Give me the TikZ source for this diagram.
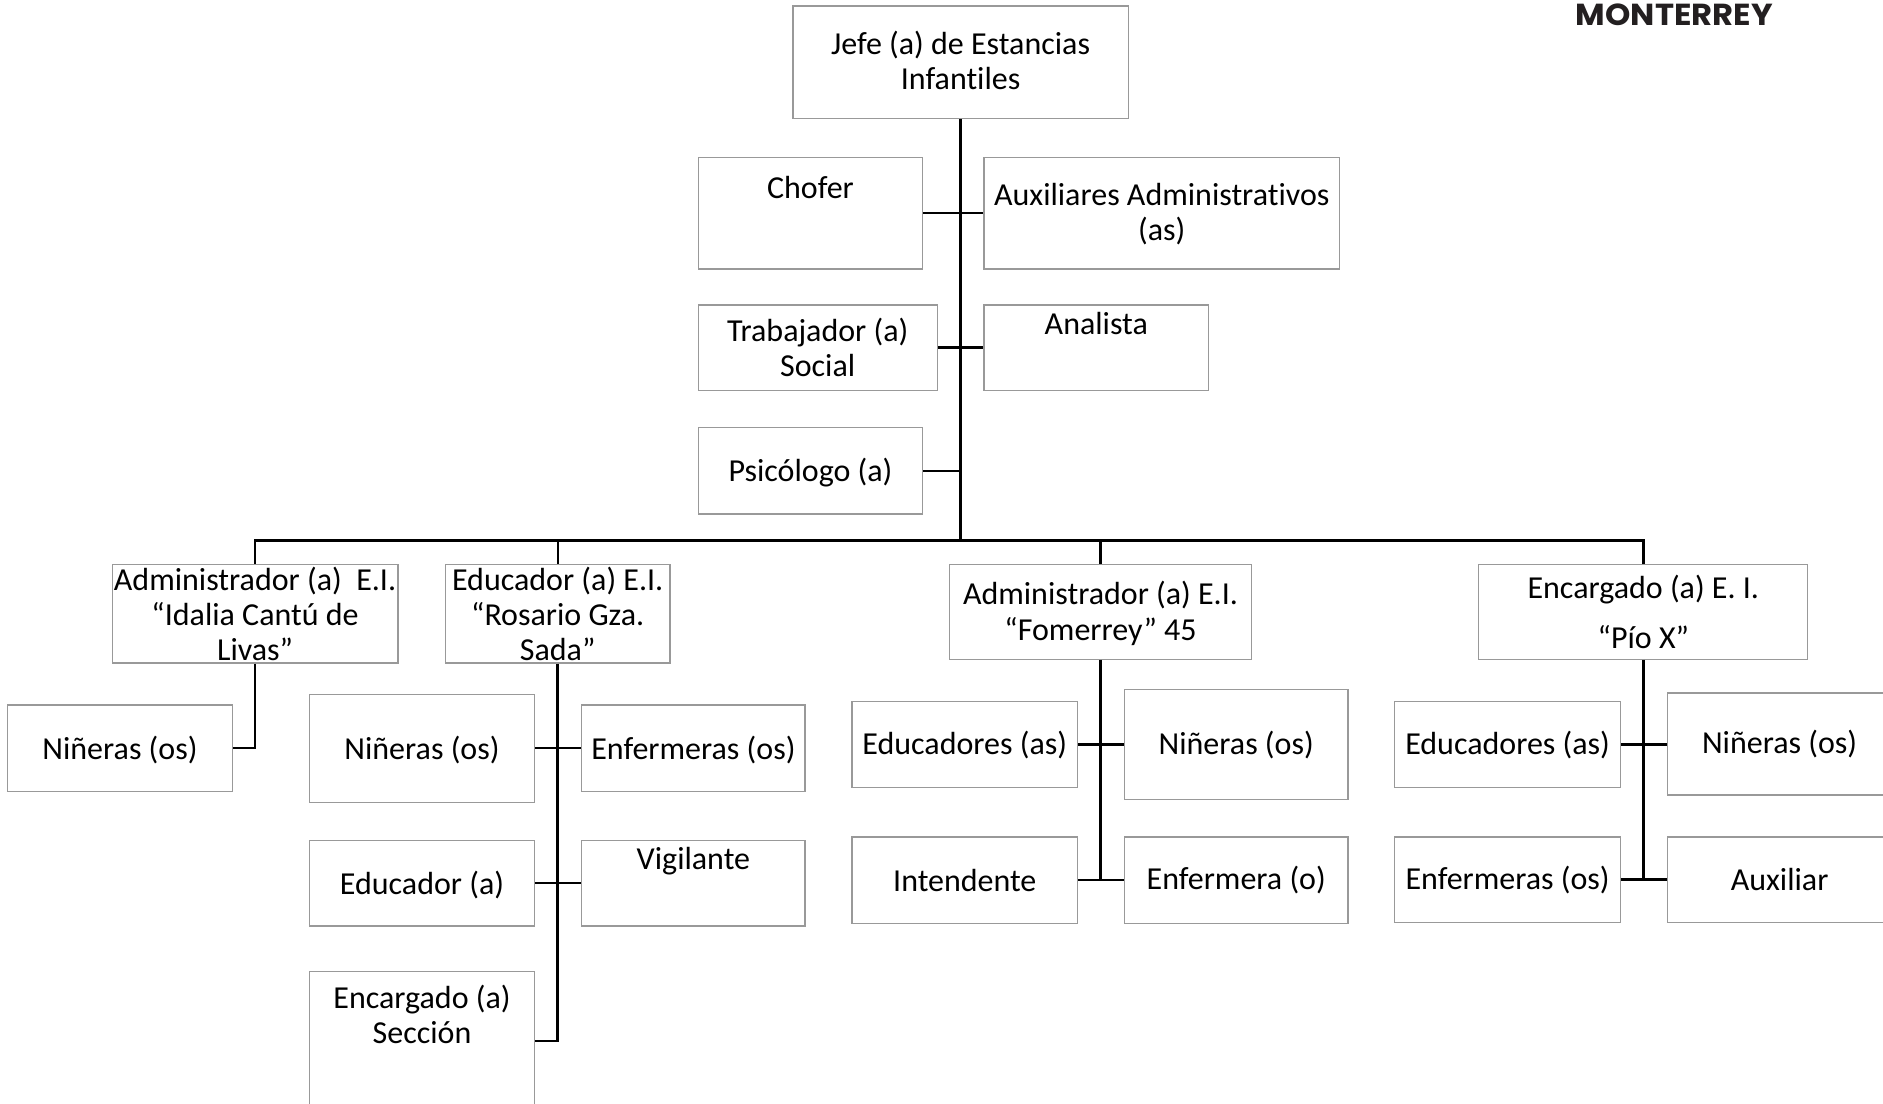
\documentclass[tikz,border=0pt]{standalone}
\usepackage{fontspec}
\setmainfont{Carlito}[Ligatures={TeX,NoCommon}]
\newfontfamily\logofont{Poppins}
\tikzset{
  x=0.6004pt,y=-0.6004pt,
  orgbox/.style={draw=boxgray,line width=0.6pt,fill=white,inner sep=0pt,align=center,text=black,
    font=\fontsize{16}{17.6}\selectfont},
  link/.style={draw=black,line width=1.3pt},
  thin link/.style={draw=black,line width=1.2pt}
}
\definecolor{boxgray}{gray}{0.6}
\definecolor{logoink}{HTML}{231F20}
% name, x0, y0, x1, y1, text
\newcommand{\orgnode}[6]{%
  \pgfmathsetmacro{\bw}{(#4-#2)*0.6004}\pgfmathsetmacro{\bh}{(#5-#3)*0.6004}%
  \node[orgbox,minimum width=\bw pt,minimum height=\bh pt] (#1) at ({(#2+#4)/2+0.4},{(#3+#5)/2}) {#6};}
% places the text block's centre #1 above the centre of its box
\newcommand{\upby}[2]{\raisebox{\dimexpr#1-6.4pt\relax}[0pt][0pt]{\begin{tabular}{@{}c@{}}#2\end{tabular}}}
\begin{document}
\begin{tikzpicture}
\useasboundingbox (0,0) rectangle (1568,919);
\clip (0,0) rectangle (1568,919);
\fill[white] (0,0) rectangle (1568,919);

\coordinate (busC) at (800,450);

\orgnode{jefe}{660}{5}{939}{99}{\upby{0.9pt}{Jefe (a) de Estancias\\Infantiles}}
\orgnode{chofer}{581}{131}{768}{224}{\upby{12.9pt}{Chofer}}
\orgnode{aux}{819}{131}{1115}{224}{\upby{0.6pt}{Auxiliares Administrativos\\(as)}}
\orgnode{trab}{581}{254}{780}{325}{Trabajador (a)\\Social}
\orgnode{anal}{819}{254}{1006}{325}{\upby{12.3pt}{Analista}}
\orgnode{psi}{581}{356}{768}{428}{\upby{0pt}{Psicólogo (a)}}

\orgnode{admA}{93}{470}{331}{552}{Administrador (a)\ \ E.I.\\“Idalia Cantú de\\Livas”}
\orgnode{eduB}{370.5}{470}{557.5}{552}{Educador (a) E.I.\\“Rosario Gza.\\Sada”}
\orgnode{admC}{790}{470}{1042}{549}{\upby{0.3pt}{Administrador (a) E.I.\\“Fomerrey” 45}}
\orgnode{encD}{1231}{470}{1505}{549}{Encargado (a) E. I.\\[7.4pt]“Pío X”}

\orgnode{ninA}{6}{587}{193}{659}{\upby{0pt}{Niñeras (os)}}
\orgnode{ninB}{257}{578}{445}{668}{\upby{0pt}{Niñeras (os)}}
\orgnode{enfB}{484}{587}{670}{659}{\upby{0pt}{Enfermeras (os)}}
\orgnode{eduS}{257}{700}{445}{771}{\upby{0pt}{Educador (a)}}
\orgnode{vig}{484}{700}{670}{771}{\upby{12.3pt}{Vigilante}}
\orgnode{encS}{257}{809}{445}{925}{\upby{13.2pt}{Encargado (a)\\Sección}}

\orgnode{eduC}{709}{584}{897}{656}{Educadores (as)}
\orgnode{ninC}{936}{574}{1122}{666}{Niñeras (os)}
\orgnode{intC}{709}{697}{897}{769}{Intendente}
\orgnode{enfC}{936}{697}{1122}{769}{Enfermera (o)}

\orgnode{eduD}{1161}{584}{1349}{656}{Educadores (as)}
\orgnode{ninD}{1388}{577}{1575}{662}{Niñeras (os)}
\orgnode{enfD}{1161}{697}{1349}{768}{Enfermeras (os)}
\orgnode{auxD}{1388}{697}{1575}{768}{Auxiliar}

% trunk and bus
\draw[link] (jefe.south -| busC) -- (busC);
\draw[link] (admA.north) |- (busC) -| (encD.north);
\draw[thin link] (eduB.north) -- (eduB.north |- busC);
\draw[thin link] (admC.north) -- (admC.north |- busC);
% staff
\draw[thin link] (chofer.east) -- (aux.west);
\draw[thin link] (trab.east) -- (anal.west);
\draw[thin link] (psi.east) -- (psi.east -| busC);
% branch A
\draw[link] (admA.south) |- (ninA.east);
% branch B
\draw[link] (eduB.south) |- (encS.east);
\draw[thin link] (ninB.east) -- (enfB.west);
\draw[thin link] (eduS.east) -- (vig.west);
% branch C
\draw[link] (admC.south) -- (admC.south |- intC.east);
\draw[thin link] (eduC.east) -- (ninC.west |- eduC.east);
\draw[thin link] (intC.east) -- (enfC.west);
% branch D
\draw[link] (encD.south) -- (encD.south |- enfD.east);
\draw[thin link] (eduD.east) -- (ninD.west |- eduD.east);
\draw[thin link] (enfD.east) -- (auxD.west);

% logo
\node[anchor=west,inner sep=0pt,text=logoink,font=\logofont\bfseries\fontsize{15.2}{18}\selectfont] (logo) at (1312,12) {\scalebox{1.06}[1]{MONTERREY}};
\end{tikzpicture}
\end{document}
